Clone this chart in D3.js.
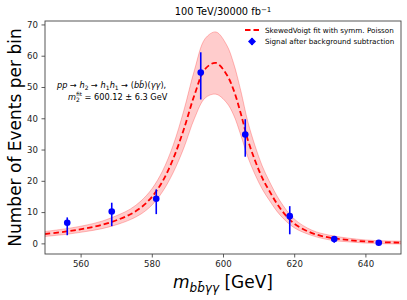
<!DOCTYPE html>
<html>
<head>
<meta charset="utf-8">
<script src="https://cdn.jsdelivr.net/npm/d3@7"></script>
<style>
  body { margin: 0; background: #fff; }
  text { font-family: "DejaVu Sans", sans-serif; }
</style>
</head>
<body>
<script>
// binned signal after background subtraction
var binCenters = [556.25, 568.75, 581.25, 593.75, 606.25, 618.75, 631.25, 643.75];
var counts     = [6.6, 10.2, 14.25, 54.6, 34.8, 8.7, 1.4, 0.2];
var errUp      = [1.7, 2.8, 3.0, 6.5, 4.9, 3.2, 0.9, 0.3];
var errDown    = [4.0, 4.7, 4.9, 8.6, 7.1, 5.8, 1.2, 0.2];

// fitted curve and its band
var fitX   = [550, 556, 561, 566, 571, 574, 577, 580, 583, 586, 589, 592, 595, 598, 601, 603, 605, 607, 609, 611, 613, 616, 620, 625, 630, 635, 640, 645, 650];
var fitY   = [3.0, 3.8, 4.7, 5.9, 7.8, 9.3, 11.5, 14.8, 19.8, 27, 36.5, 47.5, 55.8, 57.7, 54, 49, 41.5, 33, 26.5, 21, 16.8, 11.3, 6.3, 3.3, 1.8, 1.1, 0.6, 0.35, 0.25];
var bandLo = [2.2, 2.9, 3.7, 4.7, 6.3, 7.6, 9.4, 12.2, 16.5, 22.6, 30.5, 40, 46.5, 47.7, 45, 41, 34.6, 27.5, 22, 17.4, 13.8, 9.1, 5.0, 2.5, 1.1, 0.5, 0.1, -0.1, -0.2];
var bandHi = [3.8, 4.7, 5.7, 7.1, 9.3, 11.0, 13.6, 17.4, 23.1, 31.4, 42.5, 55.5, 65.5, 67.6, 63.5, 57.5, 48.8, 38.8, 31.2, 24.8, 19.9, 13.6, 7.8, 4.2, 2.6, 1.7, 1.1, 0.8, 0.7];

var xTicks = [560, 580, 600, 620, 640];
var yTicks = [0, 10, 20, 30, 40, 50, 60, 70];

var margin = { top: 21, right: 6, bottom: 46, left: 45 },
  width = 407 - margin.left - margin.right,
  height = 300 - margin.top - margin.bottom;

var svg = d3.select("body").append("svg")
  .attr("width", 407)
  .attr("height", 300);

var g = svg.append("g")
  .attr("transform", "translate(" + margin.left + "," + margin.top + ")");

var x = d3.scaleLinear().domain([550, 650]).range([0, width]);
var y = d3.scaleLinear().domain([-3.4, 71.1]).range([height, 0]);

var fit = fitX.map(function (d, i) { return { x: d, y: fitY[i], lo: bandLo[i], hi: bandHi[i] }; });

g.append("defs").append("clipPath").attr("id", "clip")
  .append("rect").attr("width", width).attr("height", height);

var plot = g.append("g").attr("clip-path", "url(#clip)");

var area = d3.area()
  .x(function (d) { return x(d.x); })
  .y0(function (d) { return y(d.lo); })
  .y1(function (d) { return y(d.hi); })
  .curve(d3.curveCatmullRom);

plot.append("path").datum(fit)
  .attr("d", area)
  .style("fill", "rgba(255,0,0,0.2)")
  .style("stroke", "rgba(255,0,0,0.25)")
  .style("stroke-width", 1);

var line = d3.line()
  .x(function (d) { return x(d.x); })
  .y(function (d) { return y(d.y); })
  .curve(d3.curveCatmullRom);

plot.append("path").datum(fit)
  .attr("d", line)
  .style("fill", "none")
  .style("stroke", "#ff0000")
  .style("stroke-width", 1.8)
  .style("stroke-dasharray", "5.5,3");

// error bars
plot.selectAll(".err").data(binCenters).enter().append("line")
  .attr("x1", function (d) { return x(d); })
  .attr("x2", function (d) { return x(d); })
  .attr("y1", function (d, i) { return y(counts[i] + errUp[i]); })
  .attr("y2", function (d, i) { return y(counts[i] - errDown[i]); })
  .style("stroke", "#0000ff")
  .style("stroke-width", 1.6);

plot.selectAll("circle").data(binCenters).enter().append("circle")
  .attr("cx", function (d) { return x(d); })
  .attr("cy", function (d, i) { return y(counts[i]); })
  .attr("r", 3.3)
  .style("fill", "#0000ff");

// axes
var xAxis = g.append("g")
  .attr("transform", "translate(0," + height + ")")
  .call(d3.axisBottom(x).tickValues(xTicks).tickSize(3.5).tickPadding(3.5));
var yAxis = g.append("g")
  .call(d3.axisLeft(y).tickValues(yTicks).tickSize(3.5).tickPadding(3.5));

[xAxis, yAxis].forEach(function (a) {
  a.selectAll("text").style("font-size", "8.6px").style("fill", "#222");
  a.selectAll("line").style("stroke", "#333").style("stroke-width", 0.8);
  a.select(".domain").remove();
});

g.append("rect")
  .attr("width", width).attr("height", height)
  .style("fill", "none").style("stroke", "#444").style("stroke-width", 0.9);

// title
svg.append("text")
  .attr("x", margin.left + width / 2).attr("y", 15)
  .attr("text-anchor", "middle")
  .style("font-size", "9.8px")
  .html("100 TeV/30000 fb<tspan dy='-3.5' font-size='7px'>−1</tspan>");

// y label
svg.append("text")
  .attr("transform", "translate(21," + (margin.top + height / 2) + ") rotate(-90)")
  .attr("text-anchor", "middle")
  .style("font-size", "17px")
  .text("Number of Events per bin");

// x label
var xl = svg.append("text")
  .attr("x", margin.left + width / 2).attr("y", 288)
  .attr("text-anchor", "middle")
  .style("font-size", "17px");
xl.append("tspan").style("font-style", "italic").text("m");
xl.append("tspan").attr("dy", 4).style("font-size", "12px").style("font-style", "italic").text("bb\u0304γγ");
xl.append("tspan").attr("dy", -4).text(" [GeV]");

// annotation
var ann = svg.append("text")
  .attr("x", 57).attr("y", 88)
  .style("font-size", "8.2px");
ann.append("tspan").style("font-style", "italic").text("pp");
ann.append("tspan").text(" → ");
ann.append("tspan").style("font-style", "italic").text("h");
ann.append("tspan").attr("dy", 2).style("font-size", "6px").text("2");
ann.append("tspan").attr("dy", -2).text(" → ");
ann.append("tspan").style("font-style", "italic").text("h");
ann.append("tspan").attr("dy", 2).style("font-size", "6px").text("1");
ann.append("tspan").attr("dy", -2).style("font-style", "italic").text("h");
ann.append("tspan").attr("dy", 2).style("font-size", "6px").text("1");
ann.append("tspan").attr("dy", -2).text(" → (");
ann.append("tspan").style("font-style", "italic").text("bb\u0304");
ann.append("tspan").text(")(");
ann.append("tspan").style("font-style", "italic").text("γγ");
ann.append("tspan").text("),");

var ann2 = svg.append("text")
  .attr("x", 68).attr("y", 100)
  .style("font-size", "8.2px");
ann2.append("tspan").style("font-style", "italic").text("m");
ann2.append("tspan").attr("dy", 2).style("font-size", "6px").text("2");
ann2.append("tspan").attr("dx", -3.5).attr("dy", -6).style("font-size", "5.5px").text("fit");
ann2.append("tspan").attr("dy", 4).text(" = 600.12 ± 6.3 GeV");

// legend
var leg = svg.append("g").attr("transform", "translate(245,30)");
leg.append("line").attr("x1", 0).attr("x2", 14).attr("y1", 0).attr("y2", 0)
  .style("stroke", "#ff0000").style("stroke-width", 1.8).style("stroke-dasharray", "5.5,3");
leg.append("text").attr("x", 20).attr("y", 2.8).style("font-size", "7.2px")
  .text("SkewedVoigt fit with symm. Poisson");
leg.append("line").attr("x1", 7).attr("x2", 7).attr("y1", 8).attr("y2", 15)
  .style("stroke", "#0000ff").style("stroke-width", 1.6);
leg.append("path").attr("transform", "translate(7,11.5)")
  .attr("d", "M0,-4L4,0L0,4L-4,0Z").style("fill", "#0000ff");
leg.append("text").attr("x", 20).attr("y", 14.3).style("font-size", "7.2px")
  .text("Signal after background subtraction");
</script>
</body>
</html>
